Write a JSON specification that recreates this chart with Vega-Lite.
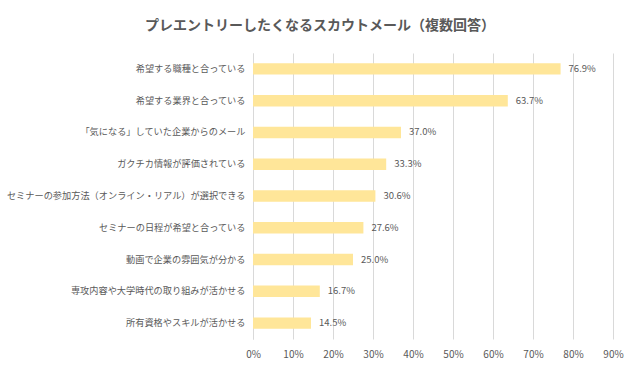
{
  "$schema": "https://vega.github.io/schema/vega-lite/v6.json",
  "autosize": {"type": "none"},
  "width": 360,
  "height": 286,
  "padding": {"left": 253, "top": 53, "right": 27, "bottom": 29},
  "background": "white",
  "title": {
    "text": "プレエントリーしたくなるスカウトメール（複数回答）",
    "font": "Noto Sans CJK JP",
    "fontSize": 14,
    "fontWeight": "bold",
    "color": "#595959",
    "anchor": "middle",
    "dx": -113,
    "offset": 20
  },
  "data": {
    "values": [
      {"item": "希望する職種と合っている", "value": 0.769},
      {"item": "希望する業界と合っている", "value": 0.637},
      {"item": "「気になる」していた企業からのメール", "value": 0.370},
      {"item": "ガクチカ情報が評価されている", "value": 0.333},
      {"item": "セミナーの参加方法（オンライン・リアル）が選択できる", "value": 0.306},
      {"item": "セミナーの日程が希望と合っている", "value": 0.276},
      {"item": "動画で企業の雰囲気が分かる", "value": 0.250},
      {"item": "専攻内容や大学時代の取り組みが活かせる", "value": 0.167},
      {"item": "所有資格やスキルが活かせる", "value": 0.145}
    ]
  },
  "encoding": {
    "y": {
      "field": "item",
      "type": "nominal",
      "sort": null,
      "scale": {"paddingInner": 0.64, "paddingOuter": 0.32},
      "axis": {
        "title": null,
        "ticks": false,
        "labelPadding": 8,
        "labelFont": "Noto Sans CJK JP",
        "labelFontSize": 9.2,
        "labelColor": "#595959",
        "domainColor": "#d9d9d9",
        "labelLimit": 300
      }
    },
    "x": {
      "field": "value",
      "type": "quantitative",
      "scale": {"domain": [0, 0.9], "nice": false},
      "axis": {
        "title": null,
        "format": ".0%",
        "values": [0, 0.1, 0.2, 0.3, 0.4, 0.5, 0.6, 0.7, 0.8, 0.9],
        "labelOverlap": false,
        "domain": false,
        "ticks": false,
        "labelPadding": 10,
        "labelFont": "Noto Sans CJK JP",
        "labelFontSize": 10,
        "labelColor": "#595959",
        "gridColor": "#d9d9d9",
        "labelFlush": false
      }
    }
  },
  "layer": [
    {"mark": {"type": "bar", "color": "#FFE699"}},
    {
      "mark": {"type": "text", "align": "left", "dx": 8, "font": "Noto Sans CJK JP", "fontSize": 9.5, "color": "#595959"},
      "encoding": {"text": {"field": "value", "format": ".1%"}}
    }
  ],
  "config": {"view": {"stroke": null}}
}
